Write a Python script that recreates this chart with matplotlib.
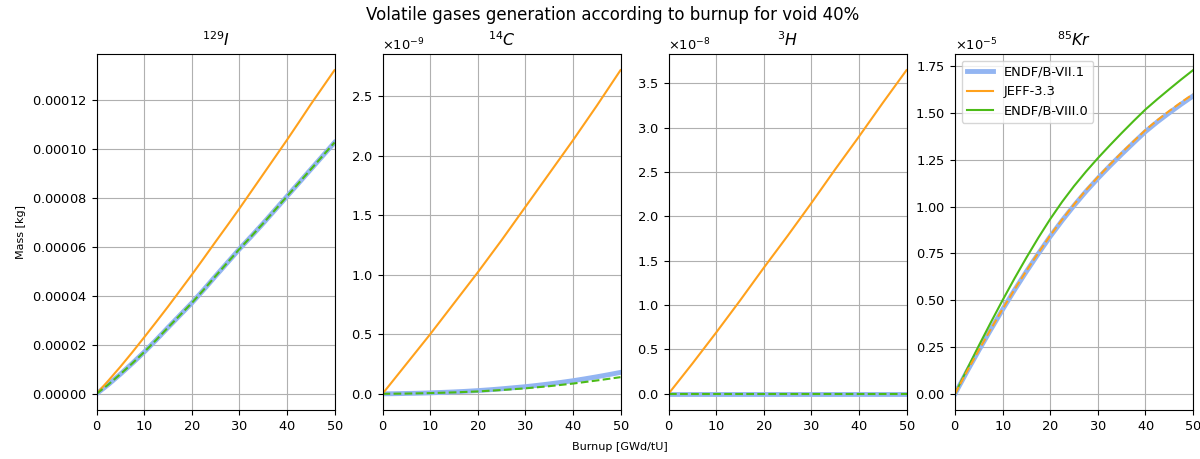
import matplotlib
matplotlib.use("Agg")
import matplotlib.pyplot as plt
from matplotlib.lines import Line2D
import numpy as np

plt.rcParams['axes.formatter.use_mathtext'] = True
plt.rcParams['xtick.labelsize'] = 9.4
plt.rcParams['ytick.labelsize'] = 9.4
plt.rcParams['legend.fontsize'] = 9.4

burnup = [0, 2.5, 5, 7.5, 10, 12.5, 15, 17.5, 20, 22.5, 25, 27.5, 30, 32.5, 35, 37.5, 40, 42.5, 45, 47.5, 50]

i129_endf71 = [0, 0.38, 0.8, 1.24, 1.7, 2.19, 2.7, 3.2, 3.7, 4.24, 4.8, 5.35, 5.9, 6.42, 6.95, 7.5, 8.05, 8.6, 9.15, 9.7, 10.25]
i129_jeff33 = [0, 0.54, 1.1, 1.69, 2.3, 2.92, 3.55, 4.2, 4.85, 5.52, 6.2, 6.87, 7.55, 8.25, 8.95, 9.65, 10.35, 11.07, 11.8, 12.5, 13.2]
i129_endf80 = [0, 0.38, 0.8, 1.24, 1.7, 2.19, 2.7, 3.2, 3.7, 4.24, 4.8, 5.35, 5.9, 6.42, 6.95, 7.5, 8.05, 8.6, 9.15, 9.7, 10.25]

c14_endf71 = [0, 0.001, 0.003, 0.005, 0.008, 0.012, 0.016, 0.021, 0.027, 0.034, 0.042, 0.051, 0.06, 0.071, 0.083, 0.096, 0.11, 0.126, 0.143, 0.161, 0.18]
c14_jeff33 = [0, 0.125, 0.25, 0.375, 0.50, 0.63, 0.76, 0.89, 1.02, 1.155, 1.29, 1.43, 1.57, 1.71, 1.85, 1.99, 2.13, 2.275, 2.42, 2.57, 2.72]
c14_endf80 = [0, 0.001, 0.002, 0.004, 0.006, 0.009, 0.012, 0.016, 0.02, 0.026, 0.032, 0.039, 0.046, 0.055, 0.064, 0.075, 0.086, 0.099, 0.112, 0.126, 0.14]

h3_endf71 = [0] * 21
h3_jeff33 = [0, 0.17, 0.34, 0.515, 0.69, 0.87, 1.05, 1.235, 1.42, 1.6, 1.78, 1.965, 2.15, 2.34, 2.53, 2.715, 2.9, 3.09, 3.28, 3.465, 3.65]
h3_endf80 = [0] * 21

kr85_endf71 = [0, 0.118, 0.232, 0.342, 0.45, 0.554, 0.653, 0.748, 0.84, 0.925, 1.005, 1.08, 1.15, 1.216, 1.279, 1.34, 1.40, 1.452, 1.50, 1.546, 1.59]
kr85_jeff33 = [0, 0.119, 0.233, 0.344, 0.453, 0.557, 0.657, 0.752, 0.845, 0.93, 1.011, 1.087, 1.157, 1.223, 1.287, 1.348, 1.408, 1.461, 1.51, 1.556, 1.60]
kr85_endf80 = [0, 0.13, 0.257, 0.38, 0.50, 0.616, 0.727, 0.833, 0.933, 1.025, 1.109, 1.186, 1.258, 1.326, 1.392, 1.456, 1.518, 1.573, 1.626, 1.678, 1.728]

scales = [1e-5, 1e-9, 1e-8, 1e-5]

titles = [r'$^{129}I$', r'$^{14}C$', r'$^{3}H$', r'$^{85}Kr$']
labels = ['ENDF/B-VII.1', 'JEFF-3.3', 'ENDF/B-VIII.0']

c_blue = '#93b5f2'
c_orange = '#ffa11c'
c_green = '#4cbb17'

panels = [
    (i129_endf71, i129_jeff33, i129_endf80, 'green'),
    (c14_endf71, c14_jeff33, c14_endf80, 'green'),
    (h3_endf71, h3_jeff33, h3_endf80, 'green'),
    (kr85_endf71, kr85_jeff33, kr85_endf80, 'orange'),
]

W, H = 1200, 459
fig = plt.figure(figsize=(W / 100, H / 100), dpi=100)
lefts = [96.5, 382.5, 668.5, 955.0]
axw = 238.0
for k, (e71, j33, e80, dashed) in enumerate(panels):
    s = scales[k]
    e71 = np.array(e71) * s
    j33 = np.array(j33) * s
    e80 = np.array(e80) * s
    ax = fig.add_axes([lefts[k] / W, 1 - 410 / H, axw / W, 356 / H])
    ax.plot(burnup, e71, color=c_blue, lw=3.5)
    if dashed == 'orange':
        ax.plot(burnup, e80, color=c_green, lw=1.5)
        ax.plot(burnup, j33, color=c_orange, lw=1.5, ls='--')
    else:
        ax.plot(burnup, j33, color=c_orange, lw=1.5)
        ax.plot(burnup, e80, color=c_green, lw=1.5, ls='--')
    ax.set_xlim(0, 50)
    ax.grid(True)
    ax.set_title(titles[k], fontsize=11.3)
    ax.yaxis.get_offset_text().set_fontsize(9.4)
    if k == 0:
        ax.set_ylabel('Mass [kg]', fontsize=8)
    if k == 3:
        handles = [Line2D([], [], color=c_blue, lw=3.5),
                   Line2D([], [], color=c_orange, lw=1.5),
                   Line2D([], [], color=c_green, lw=1.5)]
        ax.legend(handles, labels, loc='upper left')

fig.text(613 / W, 1 - 15 / H, 'Volatile gases generation according to burnup for void 40%',
         ha='center', va='center', fontsize=12)
fig.text(620 / W, 1 - 447 / H, 'Burnup [GWd/tU]', ha='center', va='center', fontsize=8)

fig.savefig('out.png', dpi=100)
